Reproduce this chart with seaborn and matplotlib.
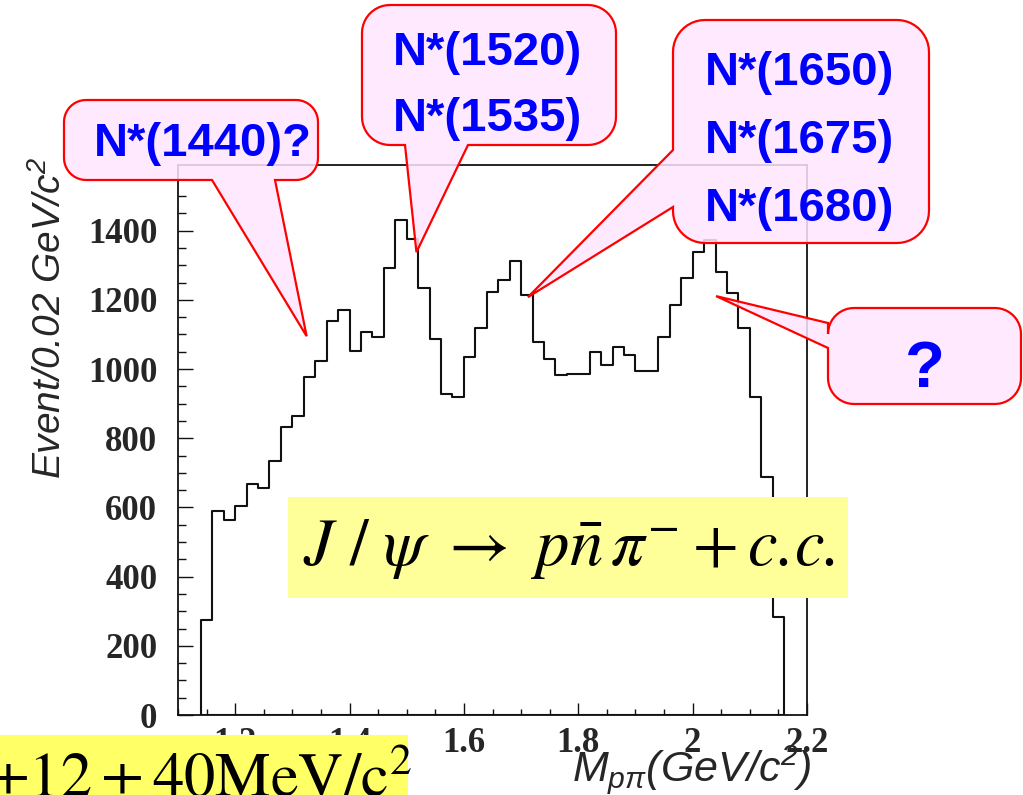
import numpy as np
import pandas as pd
import matplotlib
matplotlib.use("Agg")
import matplotlib.pyplot as plt
import seaborn as sns
from matplotlib.patches import Polygon, Rectangle
from matplotlib.ticker import MultipleLocator, FuncFormatter

# ---- data: p-pi invariant mass spectrum, 0.02 GeV/c^2 bins ----
bin_width = 0.02
first_edge = 1.14
counts = [276, 589, 565, 605, 667, 655, 734, 832, 864, 977,
          1024, 1140, 1172, 1051, 1107, 1093, 1292, 1431, 1377, 1234,
          1086, 929, 919, 1035, 1118, 1223, 1258, 1313, 1213, 1078,
          1030, 984, 986, 987, 1048, 1012, 1064, 1042, 995, 995,
          1093, 1185, 1262, 1338, 1373, 1282, 1219, 1120, 919, 687,
          283]
last_edge = round(first_edge + bin_width * len(counts), 3)
centers = first_edge + bin_width * (np.arange(len(counts)) + 0.5)

# resonance call-outs: label lines and the (mass, events) point they mark
callout_labels = [["N*(1440)?"], ["N*(1520)", "N*(1535)"],
                  ["N*(1650)", "N*(1675)", "N*(1680)"], ["?"]]
callout_points = [(1.325, 1095), (1.517, 1338), (1.712, 1208), (2.041, 1211)]

W, H = 1023, 795
sns.set_style("white")
plt.rcParams["font.family"] = ["Liberation Sans", "DejaVu Sans"]
plt.rcParams["mathtext.fontset"] = "custom"
plt.rcParams["mathtext.rm"] = "Liberation Sans:italic"
plt.rcParams["mathtext.it"] = "Liberation Sans:italic"
plt.rcParams["mathtext.sf"] = "Liberation Sans:italic"

fig = plt.figure(figsize=(W / 100, H / 100), dpi=100)
fig.patch.set_facecolor("white")

ax_l, ax_r, ax_t, ax_b = 178, 807, 165, 715
ax = fig.add_axes([ax_l / W, 1 - ax_b / H, (ax_r - ax_l) / W, (ax_b - ax_t) / H])

df = pd.DataFrame({"mass": centers, "events": counts})
sns.histplot(data=df, x="mass", weights="events", bins=len(counts),
             binrange=(first_edge, last_edge),
             element="step", fill=True, color="#111111", facecolor="none",
             edgecolor="#111111", linewidth=1.5, ax=ax)

ax.set_xlim(1.1, 2.2)
ax.set_ylim(0, 1590)
ax.set_xlabel("")
ax.set_ylabel("")
for s in ax.spines.values():
    s.set_color("#111111")
    s.set_linewidth(1.3)

ax.xaxis.set_major_locator(MultipleLocator(0.2))
ax.xaxis.set_minor_locator(MultipleLocator(0.05))
ax.yaxis.set_major_locator(MultipleLocator(200))
ax.yaxis.set_minor_locator(MultipleLocator(50))
ax.xaxis.set_major_formatter(FuncFormatter(lambda v, p: f"{v:g}"))
ax.yaxis.set_major_formatter(FuncFormatter(lambda v, p: f"{v:g}"))
ax.tick_params(which="both", bottom=True, left=True, top=False, right=False)
ax.tick_params(axis="x", which="major", direction="in", length=8.5, width=1.0,
               pad=9, color="#111111")
ax.tick_params(axis="x", which="minor", direction="in", length=4.3, width=1.0,
               color="#111111")
ax.tick_params(axis="y", which="major", direction="in", length=11, width=1.0,
               pad=15, color="#111111")
ax.tick_params(axis="y", which="minor", direction="in", length=5.5, width=1.0,
               color="#111111")
for lab in ax.get_xticklabels() + ax.get_yticklabels():
    lab.set_fontfamily("Liberation Serif")
    lab.set_fontweight("bold")
    lab.set_fontsize(25)

# axis titles
fig.text(50 / W, 1 - 318 / H, r"Event/0.02 GeV/c$^{2}$", rotation=90,
         ha="center", va="center", fontsize=28, style="italic",
         family="Liberation Sans")
fig.text(812 / W, 1 - 770 / H, r"$M_{p\pi}$(GeV/c$^{2}$)", ha="right",
         va="center", fontsize=31, style="italic", family="Liberation Sans")

# ---- overlay in pixel coordinates for boxes and call-outs ----
ov = fig.add_axes([0, 0, 1, 1])
ov.set_xlim(0, W)
ov.set_ylim(H, 0)
ov.axis("off")


def to_px(x, y):
    dx, dy = ax.transData.transform((x, y))
    return dx, H - dy


def bubble_outline(x0, y0, x1, y1, r, side, b0, b1, tip, n=12):
    pts = []
    def arc(cx, cy, a0, a1):
        for t in np.linspace(np.radians(a0), np.radians(a1), n):
            pts.append((cx + r * np.cos(t), cy + r * np.sin(t)))
    arc(x1 - r, y0 + r, -90, 0)
    arc(x1 - r, y1 - r, 0, 90)
    if side == "bottom":
        pts += [(b1, y1), tip, (b0, y1)]
    arc(x0 + r, y1 - r, 90, 180)
    if side == "left":
        pts += [(x0, b1), tip, (x0, b0)]
    arc(x0 + r, y0 + r, 180, 270)
    return pts


bubbles = [
    dict(box=(64, 100, 318, 180), r=22, side="bottom", base=(212, 275),
         text_xy=(203, 144), dy=0),
    dict(box=(362, 5, 616, 145), r=28, side="bottom", base=(405, 468),
         text_xy=(487, 53), dy=66),
    dict(box=(673, 20, 929, 243), r=32, side="left", base=(150, 207),
         text_xy=(800, 73), dy=68),
    dict(box=(828, 308, 1021, 404), r=26, side="left", base=(323, 348),
         text_xy=(925, 370), dy=0),
]

for spec, lines, point in zip(bubbles, callout_labels, callout_points):
    x0, y0, x1, y1 = spec["box"]
    tip = to_px(*point)
    pts = bubble_outline(x0, y0, x1, y1, spec["r"], spec["side"],
                         spec["base"][0], spec["base"][1], tip)
    ov.add_patch(Polygon(pts, closed=True, facecolor=(1.0, 0.9, 1.0, 0.85),
                         edgecolor="#ff0000", linewidth=1.6, zorder=3))
    tx, ty = spec["text_xy"]
    size = 47 if lines == ["?"] else 34
    for i, line in enumerate(lines):
        ov.text(tx, ty + i * spec["dy"], line, ha="center", va="center",
                fontsize=size, fontweight="bold", color="#0000ff",
                family="Liberation Sans", zorder=4)

# decay channel label
ov.add_patch(Rectangle((288, 497), 560, 101, facecolor="#ffff99",
                       edgecolor="none", zorder=5))
ov.text(569, 549,
        r"$J\ /\ \psi\ \rightarrow\ p\bar{n}\,\pi^{-} + $c.c.",
        ha="center", va="center", fontsize=48, math_fontfamily="stix",
        family="STIXGeneral", style="italic", color="black", zorder=6)

# mass / width note at the lower left
ov.add_patch(Rectangle((0, 735), 408, 60, facecolor="#ffff66",
                       edgecolor="none", zorder=5))
ov.text(-14, 797, r"$\pm 12 \pm 40\mathrm{MeV/c}^{2}$", ha="left",
        va="baseline", fontsize=45, math_fontfamily="stix",
        color="black", zorder=6)

fig.savefig("out.png", dpi=100)
